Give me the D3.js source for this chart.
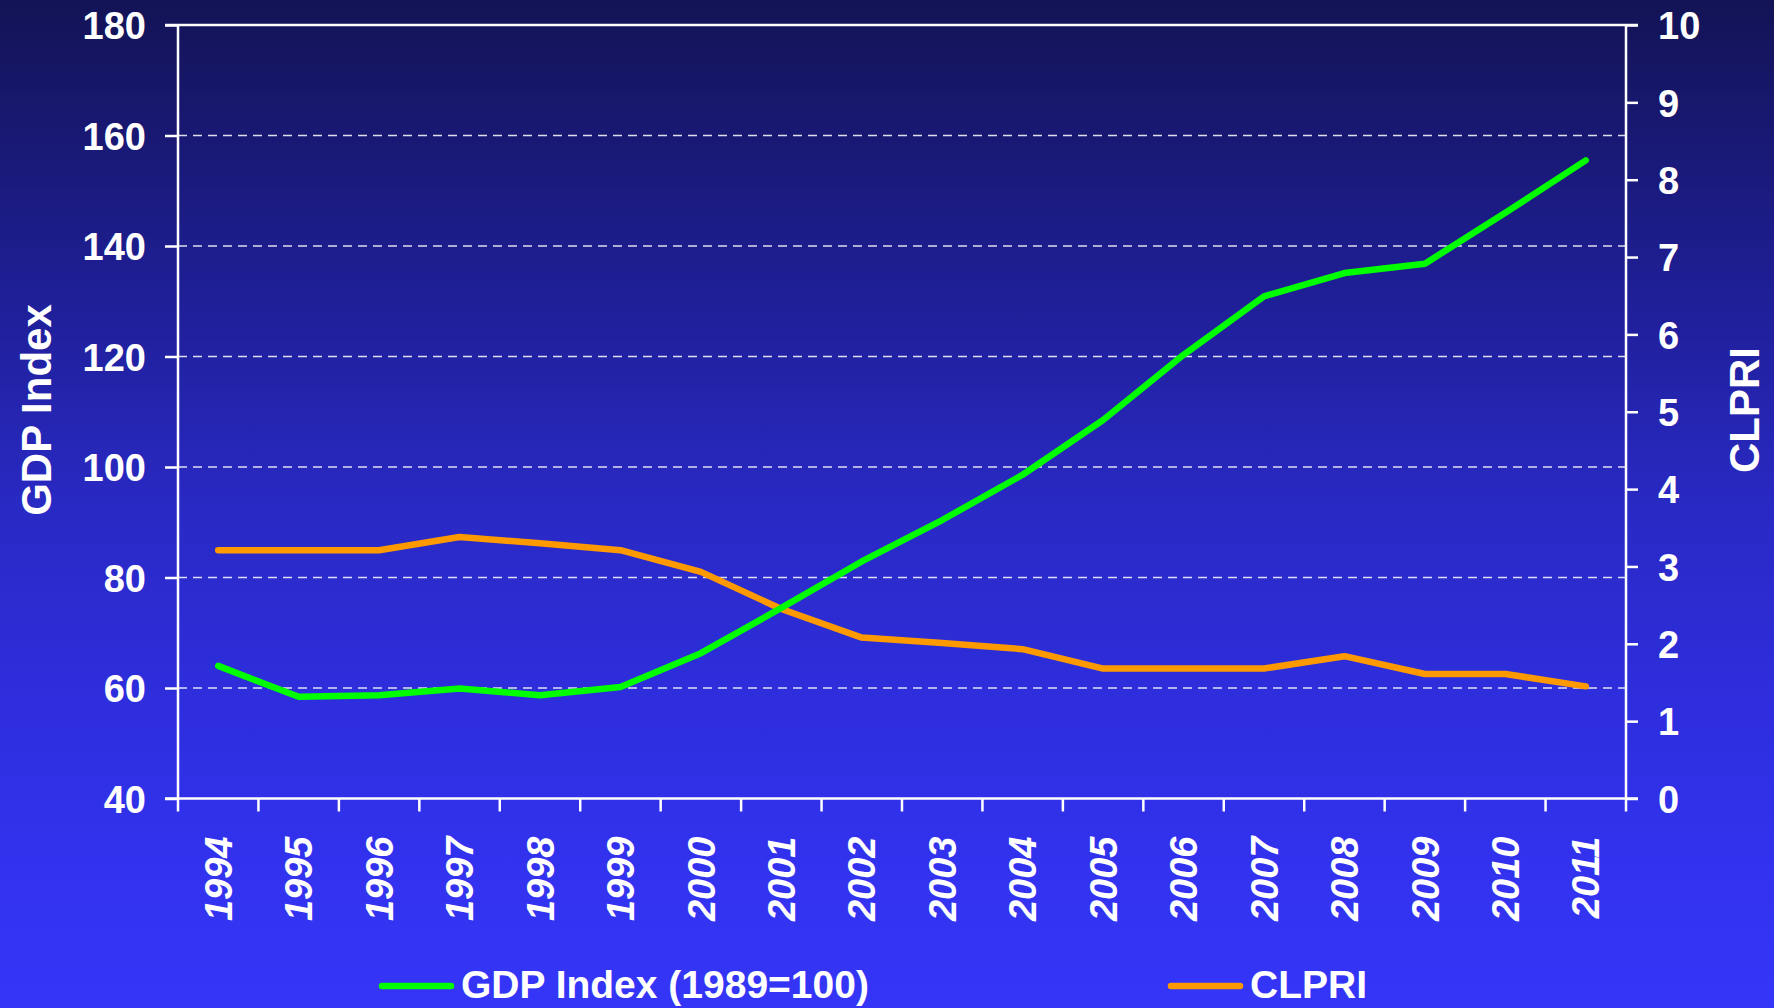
<!DOCTYPE html>
<html>
<head>
<meta charset="utf-8">
<script src="https://cdn.jsdelivr.net/npm/d3@7"></script>
<style>
  body { margin: 0; padding: 0; overflow: hidden; }
  text { font-family: "Liberation Sans", Arial, sans-serif; font-weight: bold; fill: #ffffff; }
</style>
</head>
<body>
<div id="chart_div"></div>
<script>
//* data
var years = ["1994", "1995", "1996", "1997", "1998", "1999", "2000", "2001", "2002",
             "2003", "2004", "2005", "2006", "2007", "2008", "2009", "2010", "2011"]
var gdpIndex = [64.0, 58.4, 58.7, 59.9, 58.7, 60.2, 66.3, 74.5, 82.9,
                90.4, 98.6, 108.5, 120.3, 130.9, 135.1, 136.8, 146.0, 155.5]
var clpri = [3.21, 3.21, 3.21, 3.38, 3.30, 3.21, 2.93, 2.45, 2.08,
             2.01, 1.93, 1.68, 1.68, 1.68, 1.84, 1.61, 1.61, 1.45]
var gdpTicks = [40, 60, 80, 100, 120, 140, 160, 180]
var clpriTicks = [0, 1, 2, 3, 4, 5, 6, 7, 8, 9, 10]
var gridTicks = [60, 80, 100, 120, 140, 160]
var seriesNames = ["GDP Index (1989=100)", "CLPRI"]
var seriesColors = ["#00ff00", "#ff9900"]

var width = 1774, height = 1008
var margin = {top: 25, right: 148, bottom: 209.5, left: 178}
var plotW = width - margin.left - margin.right,
    plotH = height - margin.top - margin.bottom

var svg = d3.select("#chart_div")
  .append("svg")
    .attr("width", width)
    .attr("height", height)

//* background gradient
var defs = svg.append("defs")
var grad = defs.append("linearGradient")
    .attr("id", "bg")
    .attr("x1", 0).attr("y1", 0).attr("x2", 0).attr("y2", 1)
var stops = [[0, "#131356"], [0.1, "#17176c"], [0.3, "#1f1f98"], [0.5, "#2929c4"], [0.7, "#2e2ede"], [0.85, "#3232ee"], [1, "#3535f8"]]
stops.forEach(function (s) {
  grad.append("stop").attr("offset", s[0]).attr("stop-color", s[1])
})
svg.append("rect")
    .attr("width", width).attr("height", height)
    .attr("fill", "url(#bg)")

var g = svg.append("g")
    .attr("transform", "translate(" + margin.left + "," + margin.top + ")")

//* scales
var x = d3.scaleBand().domain(years).range([0, plotW])
var yL = d3.scaleLinear().domain([40, 180]).range([plotH, 0])
var yR = d3.scaleLinear().domain([0, 10]).range([plotH, 0])

//* dashed grid
g.selectAll("grid")
  .data(gridTicks)
  .enter()
  .append("line")
    .attr("x1", 0).attr("x2", plotW)
    .attr("y1", function (d) { return yL(d) })
    .attr("y2", function (d) { return yL(d) })
    .attr("stroke", "rgba(255,255,255,0.85)")
    .attr("stroke-width", 1.5)
    .attr("stroke-dasharray", "9,6")

//* left axis
var leftAxis = g.append("g")
  .call(d3.axisLeft(yL).tickValues(gdpTicks).tickSize(13).tickSizeOuter(0).tickPadding(19))
leftAxis.select(".domain").remove()
leftAxis.selectAll("line").attr("stroke", "#fff").attr("stroke-width", 2.5)
leftAxis.selectAll("text")
    .attr("font-size", "38px")
    .attr("fill", "#fff")
    .attr("dy", "0.36em")
    .style("font-family", "'Liberation Sans', Arial, sans-serif")

//* right axis
var rightAxis = g.append("g")
    .attr("transform", "translate(" + plotW + ",0)")
  .call(d3.axisRight(yR).tickValues(clpriTicks).tickSize(12).tickSizeOuter(0).tickPadding(20))
rightAxis.select(".domain").remove()
rightAxis.selectAll("line").attr("stroke", "#fff").attr("stroke-width", 2.5)
rightAxis.selectAll("text")
    .attr("font-size", "38px")
    .attr("fill", "#fff")
    .attr("dy", "0.36em")
    .style("font-family", "'Liberation Sans', Arial, sans-serif")

//* frame lines: left, right, top and bottom
g.append("line").attr("x1", 0).attr("x2", 0).attr("y1", 0).attr("y2", plotH)
g.append("line").attr("x1", plotW).attr("x2", plotW).attr("y1", 0).attr("y2", plotH)
g.append("line").attr("x1", -13).attr("x2", plotW + 12).attr("y1", 0).attr("y2", 0)
g.append("line").attr("x1", -13).attr("x2", plotW + 12).attr("y1", plotH).attr("y2", plotH)
g.selectAll("line").filter(function () { return !this.getAttribute("stroke") })
    .attr("stroke", "#fff").attr("stroke-width", 2.5)

//* x ticks on band edges
var edges = years.map(function (d) { return x(d) }).concat([plotW])
g.selectAll("xtick")
  .data(edges)
  .enter()
  .append("line")
    .attr("x1", function (d) { return d }).attr("x2", function (d) { return d })
    .attr("y1", plotH).attr("y2", plotH + 13)
    .attr("stroke", "#fff").attr("stroke-width", 2.5)

//* x labels, rotated
g.selectAll("xlab")
  .data(years)
  .enter()
  .append("text")
    .attr("transform", function (d) {
      return "translate(" + (x(d) + x.bandwidth() / 2) + "," + (plotH + 38) + ") rotate(-90)"
    })
    .attr("text-anchor", "end")
    .attr("dy", "0.36em")
    .attr("font-size", "38px")
    .attr("font-style", "italic")
    .text(function (d) { return d })

//* axis titles
svg.append("text")
    .attr("transform", "translate(36,410) rotate(-90)")
    .attr("text-anchor", "middle")
    .attr("dy", "0.36em")
    .attr("font-size", "42px")
    .text("GDP Index")
svg.append("text")
    .attr("transform", "translate(1744,410) rotate(-90)")
    .attr("text-anchor", "middle")
    .attr("dy", "0.36em")
    .attr("font-size", "42px")
    .text("CLPRI")

//* lines
var cx = function (d, i) { return x(years[i]) + x.bandwidth() / 2 }
var gdpLine = d3.line().x(cx).y(function (d) { return yL(d) })
var clpriLine = d3.line().x(cx).y(function (d) { return yR(d) })

g.append("path")
    .datum(clpri)
    .attr("d", clpriLine)
    .attr("fill", "none")
    .attr("stroke", seriesColors[1])
    .attr("stroke-width", 6.5)
    .attr("stroke-linecap", "round")
    .attr("stroke-linejoin", "round")

g.append("path")
    .datum(gdpIndex)
    .attr("d", gdpLine)
    .attr("fill", "none")
    .attr("stroke", seriesColors[0])
    .attr("stroke-width", 6.5)
    .attr("stroke-linecap", "round")
    .attr("stroke-linejoin", "round")

//* legend
var legendX = [382, 1171]
var leg = svg.selectAll("legend")
  .data(seriesNames)
  .enter()
  .append("g")
    .attr("transform", function (d, i) { return "translate(" + legendX[i] + ",986)" })
leg.append("line")
    .attr("x1", 0).attr("x2", 69)
    .attr("stroke", function (d, i) { return seriesColors[i] })
    .attr("stroke-width", 6.5)
    .attr("stroke-linecap", "round")
leg.append("text")
    .attr("x", 79)
    .attr("y", 12)
    .attr("font-size", "39px")
    .text(function (d) { return d })
</script>
</body>
</html>
